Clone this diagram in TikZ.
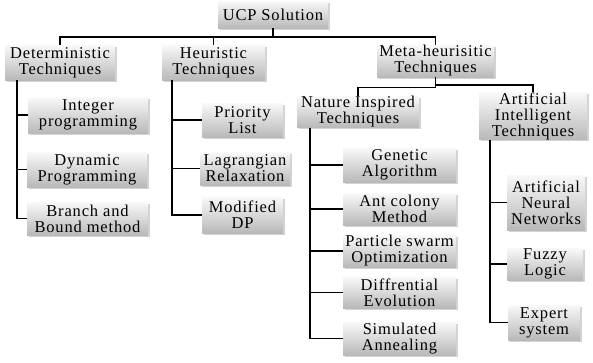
\documentclass[tikz,border=0pt]{standalone}
\usepackage{fontspec}
\setmainfont[LetterSpace=5]{Liberation Serif}
\usetikzlibrary{shadows}

\begin{document}
\begin{tikzpicture}[x=1pt,y=1pt,
    techbox/.style={inner sep=0pt, align=center, top color=gray!5, bottom color=gray!55,
      drop shadow={shadow xshift=1.5pt, shadow yshift=-1.5pt, opacity=0.35},
      font=\fontsize{16.5}{16}\selectfont},
    link/.style={line width=1.6pt}]
    \useasboundingbox (0,0) rectangle (593,-362);

    % top levels
    \node[techbox,minimum width=110,minimum height=27] (ucp) at (273,-14.5) {UCP Solution};
    \node[techbox,minimum width=110,minimum height=35] (det) at (60,-62.5) {Deterministic\\Techniques};
    \node[techbox,minimum width=103,minimum height=35] (heu) at (213.5,-62.5) {Heuristic\\Techniques};
    \node[techbox,minimum width=117,minimum height=32] (meta) at (435.5,-61) {Meta-heurisitic\\Techniques};
    \node[techbox,minimum width=122,minimum height=30] (nat) at (358,-112) {Nature Inspired\\Techniques};
    \node[techbox,minimum width=108,minimum height=42] (ai) at (533,-116) {Artificial\\Intelligent\\Techniques};

    % deterministic
    \node[techbox,minimum width=120,minimum height=36] (int) at (88,-115) {Integer\\programming};
    \node[techbox,minimum width=120,minimum height=35] (dyn) at (87,-169.5) {Dynamic\\Programming};
    \node[techbox,minimum width=121,minimum height=33] (bnb) at (87.5,-218.5) {Branch and\\Bound method};

    % heuristic
    \node[techbox,minimum width=81,minimum height=34] (pri) at (242.5,-120) {Priority\\List};
    \node[techbox,minimum width=90,minimum height=33] (lag) at (245,-168.5) {Lagrangian\\Relaxation};
    \node[techbox,minimum width=81,minimum height=36] (mdp) at (242.5,-215) {Modified\\DP};

    % nature inspired
    \node[techbox,minimum width=113,minimum height=34] (gen) at (399.5,-165) {Genetic\\Algorithm};
    \node[techbox,minimum width=113,minimum height=32] (ant) at (399.5,-209) {Ant colony\\Method};
    \node[techbox,minimum width=113,minimum height=32] (pso) at (399.5,-251) {Particle swarm\\Optimization};
    \node[techbox,minimum width=113,minimum height=31] (dif) at (399.5,-292.5) {Diffrential\\Evolution};
    \node[techbox,minimum width=113,minimum height=33] (sim) at (399.5,-338.5) {Simulated\\Annealing};

    % artificial intelligent
    \node[techbox,minimum width=78,minimum height=55] (ann) at (546,-202.5) {Artificial\\Neural\\Networks};
    \node[techbox,minimum width=76,minimum height=32] (fuz) at (545,-264) {Fuzzy\\Logic};
    \node[techbox,minimum width=72,minimum height=35] (exp) at (544,-322.5) {Expert\\system};

    \draw[link] (det.north) -- ++(0,8) -| (ucp.south);
    \draw[link] (heu.north) -- ++(0,8) -| (ucp.south);
    \draw[link] (meta.north) -- ++(0,8) -| (ucp.south);
    \draw[link] (nat.north) -- ++(0,9) -| (meta.south);
    \draw[link] (ai.north) -- ++(0,7) -| (meta.south);

    \foreach \n in {int,dyn,bnb}
        \draw[link] ([xshift=12]det.south west) |- (\n.west);
    \foreach \n in {pri,lag,mdp}
        \draw[link] ([xshift=10]heu.south west) |- (\n.west);
    \foreach \n in {gen,ant,pso,dif,sim}
        \draw[link] ([xshift=13]nat.south west) |- (\n.west);
    \foreach \n in {ann,fuz,exp}
        \draw[link] ([xshift=11]ai.south west) |- (\n.west);
\end{tikzpicture}
\end{document}
